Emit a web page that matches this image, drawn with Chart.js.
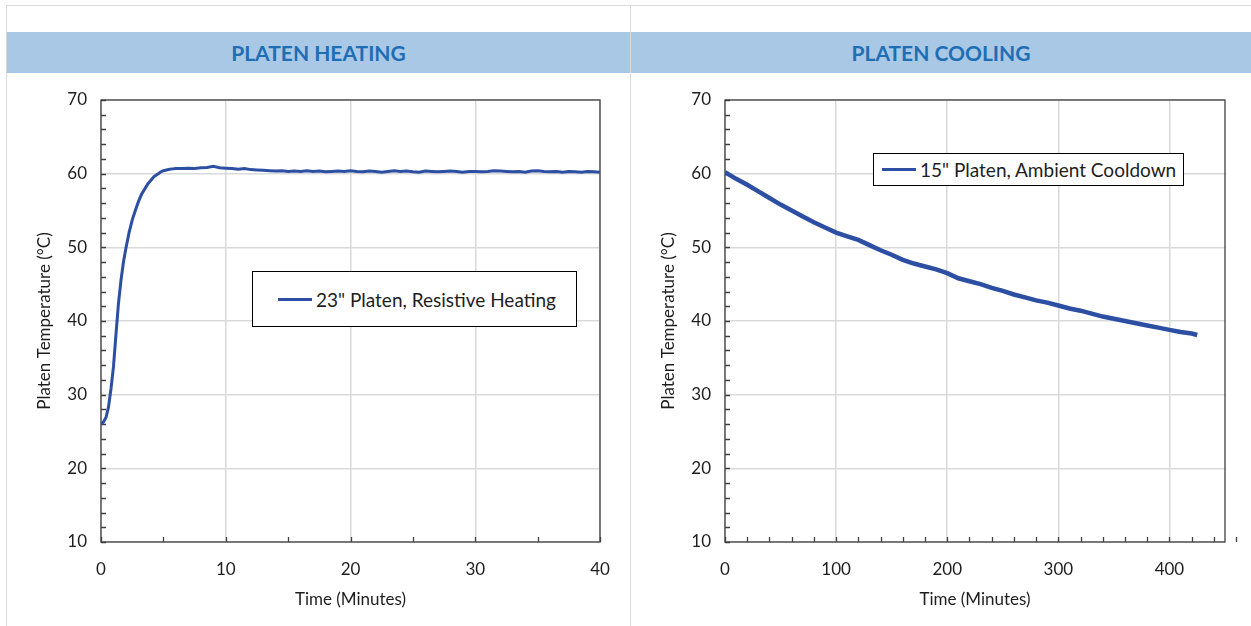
<!DOCTYPE html>
<html>
<head>
<meta charset="utf-8">
<script src="https://cdn.jsdelivr.net/npm/chart.js@4.4.1/dist/chart.umd.min.js"></script>
<style>
body{margin:0;background:#fff;width:1251px;height:626px;overflow:hidden;position:relative;font-family:Lato,"Open Sans",sans-serif;}
.line-h{position:absolute;left:6px;top:5px;width:1245px;height:1px;background:#d9d9d9}
.line-v{position:absolute;top:5px;width:1px;height:621px;background:#d9d9d9}
.head{position:absolute;top:32px;height:41px;background:#a9c8e6;color:#1e6eb4;font-weight:bold;font-size:21px;line-height:41px;text-align:center}
.wrap{position:absolute;top:80px;height:546px}
.legend{position:absolute;box-sizing:border-box;border:1.5px solid #000;background:#fff;font-size:19px;color:#1e1e1e;display:flex;align-items:center;white-space:nowrap}
.legend i{display:inline-block;width:34px;height:3px;margin-right:4px}
</style>
</head>
<body>
<div class="line-h"></div>
<div class="line-v" style="left:6px"></div>
<div class="line-v" style="left:630px"></div>
<div class="head" style="left:7px;width:623px">PLATEN HEATING</div>
<div class="head" style="left:631px;width:620px">PLATEN COOLING</div>
<div class="wrap" style="left:0;width:629px"><canvas id="heatChart"></canvas></div>
<div class="wrap" style="left:631px;width:620px"><canvas id="coolChart"></canvas></div>
<div class="legend" id="heatLegend" style="left:252px;top:271px;width:325px;height:56px;padding-left:25px"></div>
<div class="legend" id="coolLegend" style="left:873px;top:153px;width:311px;height:33px;padding-left:8px"></div>
<script>
// HEATING DATA (minutes, deg C)
const heatTime = [0,0.2,0.4,0.6,0.8,1.0,1.2,1.4,1.6,1.8,2.0,2.25,2.5,2.75,3.0,3.25,3.5,3.75,4.0,4.25,4.5,4.75,5.0,5.25,5.5,5.75,6.0,
  6.5,7,7.5,8,8.5,9,9.5,10,10.5,11,11.5,12,12.5,13,13.5,14,14.5,15,15.5,16,16.5,17,17.5,18,18.5,19,19.5,20,
  20.5,21,21.5,22,22.5,23,23.5,24,24.5,25,25.5,26,26.5,27,27.5,28,28.5,29,29.5,30,30.5,31,31.5,32,32.5,33,
  33.5,34,34.5,35,35.5,36,36.5,37,37.5,38,38.5,39,39.5,40];
const heatTemp = [26.0,26.3,26.9,28.3,30.8,33.8,38.2,42.4,45.5,48.0,49.9,52.0,53.7,55.0,56.2,57.2,57.9,58.6,59.1,59.6,59.9,60.2,60.4,60.5,60.6,60.65,60.7,
  60.7,60.75,60.7,60.8,60.85,61.0,60.8,60.75,60.7,60.6,60.7,60.55,60.5,60.45,60.4,60.35,60.4,60.3,60.35,60.3,60.4,60.3,60.35,60.25,60.3,60.35,60.3,60.4,
  60.3,60.25,60.35,60.3,60.2,60.3,60.4,60.3,60.35,60.25,60.2,60.35,60.3,60.25,60.3,60.35,60.3,60.2,60.3,60.3,60.25,60.3,60.4,60.35,60.3,60.25,
  60.3,60.2,60.35,60.4,60.3,60.25,60.3,60.2,60.3,60.25,60.2,60.3,60.25,60.2];

// COOLING DATA (minutes, deg C)
const coolTime = [0,10,20,30,40,50,60,70,80,90,100,110,120,130,140,150,160,170,180,190,200,210,220,230,240,250,260,270,280,290,300,
  310,320,330,340,350,360,370,380,390,400,410,420,425];
const coolTemp = [60.2,59.3,58.5,57.6,56.7,55.8,55.0,54.2,53.4,52.7,52.0,51.5,51.0,50.3,49.6,49.0,48.3,47.8,47.4,47.0,46.5,45.8,45.4,45.0,44.5,44.1,43.6,43.2,42.8,42.5,42.1,
  41.7,41.4,41.0,40.6,40.3,40.0,39.7,39.4,39.1,38.8,38.5,38.3,38.1];

const heatLabel = '23" Platen, Resistive Heating';
const coolLabel = '15" Platen, Ambient Cooldown';
const lineColor = '#2c4fa3';
const yTicks = [10,20,30,40,50,60,70];
const heatXTicks = [0,10,20,30,40];
const coolXTicks = [0,100,200,300,400];

const font = {family:'Lato, "Open Sans", sans-serif', size:17};

// minor ticks + plot frame
const frame = {
  id:'frame',
  beforeDatasetsDraw(chart, args, opts){
    const {ctx, chartArea:a, scales:{x,y}} = chart;
    ctx.save();
    ctx.strokeStyle='#404040';
    ctx.lineWidth=1.3;
    ctx.beginPath();
    const nx=Math.round((x.max-x.min)/opts.xMinor);
    for(let i=0;i<=nx;i++){
      const px=Math.round(x.getPixelForValue(x.min+i*opts.xMinor))+0.5;
      ctx.moveTo(px,a.bottom); ctx.lineTo(px,a.bottom-5);
    }
    const ny=Math.round((y.max-y.min)/opts.yMinor);
    for(let i=0;i<=ny;i++){
      const py=Math.round(y.getPixelForValue(y.min+i*opts.yMinor))+0.5;
      ctx.moveTo(a.left,py); ctx.lineTo(a.left+5,py);
    }
    ctx.stroke();
    ctx.strokeRect(a.left,a.top,a.width,a.height);
    ctx.restore();
  }
};

function makeChart(id, time, temp, label, cfg){
  const pts = time.map((t,i)=>({x:t,y:temp[i]}));
  return new Chart(document.getElementById(id),{
    type:'line',
    data:{datasets:[{label:label,data:pts,borderColor:lineColor,borderWidth:cfg.lw,pointRadius:0,tension:0}]},
    options:{
      responsive:true,maintainAspectRatio:false,animation:false,
      layout:{padding:{left:0,top:20,right:cfg.right,bottom:0}},
      plugins:{legend:{display:false},tooltip:{enabled:false},frame:{xMinor:cfg.xMinor,yMinor:2}},
      scales:{
        x:{type:'linear',min:0,max:cfg.xMax,
          afterFit:s=>{s.height=84;s.paddingLeft=0;s.paddingRight=0;},
          afterBuildTicks:s=>{s.ticks=cfg.xTicks.map(v=>({value:v}));},
          border:{display:false},
          grid:{color:'#d9d9d9',lineWidth:1.5,drawTicks:false},
          ticks:{padding:17,color:'#1e1e1e',font:font},
          title:{display:true,text:'Time (Minutes)',color:'#1e1e1e',font:font,padding:{top:0,bottom:16}}},
        y:{min:10,max:70,
          afterFit:s=>{s.width=cfg.yw;s.paddingTop=0;s.paddingBottom=0;},
          afterBuildTicks:s=>{s.ticks=yTicks.map(v=>({value:v}));},
          border:{display:false},
          grid:{color:'#d9d9d9',lineWidth:1.5,drawTicks:false},
          ticks:{padding:14,color:'#1e1e1e',font:font},
          title:{display:true,text:'Platen Temperature (°C)',color:'#1e1e1e',font:font,padding:{top:cfg.tp,bottom:0}}}
      }
    },
    plugins:[frame]
  });
}

makeChart('heatChart',heatTime,heatTemp,heatLabel,{xMax:40,xTicks:heatXTicks,xMinor:5,right:29,yw:101,tp:34,lw:3});
makeChart('coolChart',coolTime,coolTemp,coolLabel,{xMax:450,xTicks:coolXTicks,xMinor:20,right:26,yw:94,tp:27,lw:4.5});

// LEGENDS
function fillLegend(id,label){
  const box=document.getElementById(id);
  const mark=document.createElement('i');
  mark.style.background=lineColor;
  box.appendChild(mark);
  box.appendChild(document.createTextNode(label));
}
fillLegend('heatLegend',heatLabel);
fillLegend('coolLegend',coolLabel);
</script>
</body>
</html>
